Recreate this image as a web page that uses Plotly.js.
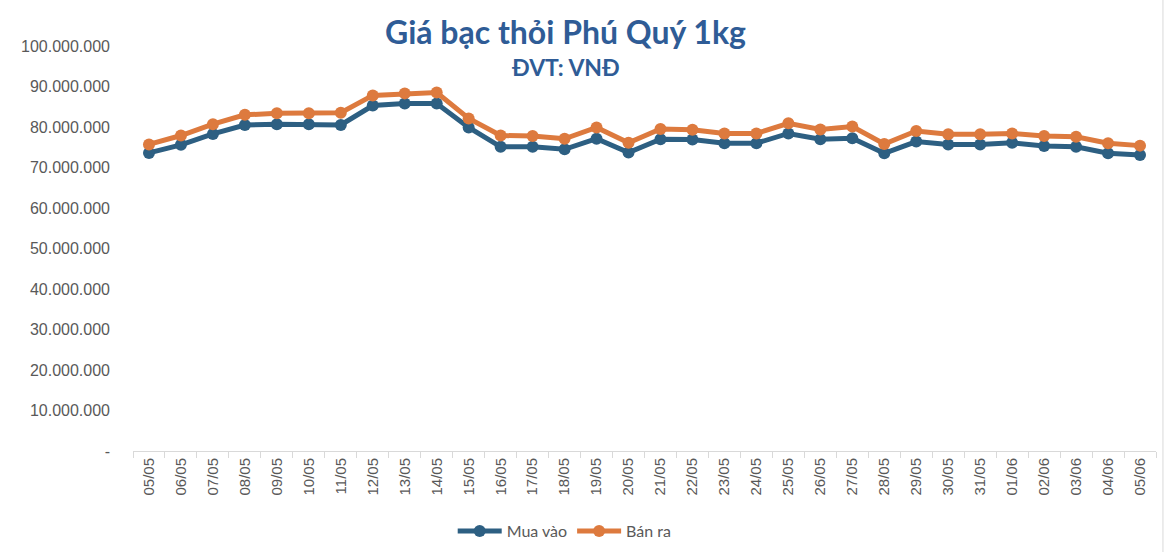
<!DOCTYPE html>
<html>
<head>
<meta charset="utf-8">
<script src="https://cdn.plot.ly/plotly-3.0.1.min.js"></script>
<style>
  html, body { margin: 0; padding: 0; background: #fff; }
  #chart { width: 1166px; height: 552px; }
</style>
</head>
<body>
<div id="chart"></div>
<script>
// Giá bạc thỏi Phú Quý 1kg, 05/05 - 05/06
var dates = ['05/05', '06/05', '07/05', '08/05', '09/05', '10/05', '11/05', '12/05', '13/05', '14/05',
             '15/05', '16/05', '17/05', '18/05', '19/05', '20/05', '21/05', '22/05', '23/05', '24/05',
             '25/05', '26/05', '27/05', '28/05', '29/05', '30/05', '31/05', '01/06', '02/06', '03/06',
             '04/06', '05/06'];

var muaVao = [73600000, 75600000, 78300000, 80500000, 80700000, 80700000, 80500000, 85300000, 85800000, 85800000,
              79900000, 75100000, 75100000, 74500000, 77100000, 73700000, 77000000, 76900000, 76000000, 76000000,
              78400000, 77000000, 77200000, 73500000, 76400000, 75700000, 75700000, 76100000, 75300000, 75100000,
              73500000, 73100000];

var banRa = [75700000, 77900000, 80700000, 83000000, 83400000, 83400000, 83500000, 87800000, 88300000, 88500000,
             82100000, 77900000, 77800000, 77100000, 79900000, 76100000, 79500000, 79300000, 78400000, 78400000,
             80900000, 79400000, 80100000, 75800000, 79000000, 78200000, 78200000, 78400000, 77800000, 77600000,
             76000000, 75400000];

var yTicks = [0, 10000000, 20000000, 30000000, 40000000, 50000000, 60000000, 70000000, 80000000, 90000000, 100000000];
var yTickText = ['-', '10.000.000', '20.000.000', '30.000.000', '40.000.000', '50.000.000',
                 '60.000.000', '70.000.000', '80.000.000', '90.000.000', '100.000.000'];

var blue = '#2d5f82';
var orange = '#dd7a3e';

var traces = [
    { x: dates, y: muaVao, name: 'Mua vào', type: 'scatter', mode: 'lines+markers',
      line: { color: blue, width: 5 }, marker: { color: blue, size: 12 } },
    { x: dates, y: banRa, name: 'Bán ra', type: 'scatter', mode: 'lines+markers',
      line: { color: orange, width: 5 }, marker: { color: orange, size: 12 } }
];

var layout = {
    width: 1166, height: 552,
    paper_bgcolor: '#fff', plot_bgcolor: '#fff',
    margin: { t: 46, r: 10, b: 101, l: 133, autoexpand: false },
    font: { family: 'Liberation Sans, Arial', color: '#595959', size: 14 },
    showlegend: true,
    legend: { orientation: 'h', x: 0.422, xanchor: 'center', y: -0.198, yanchor: 'middle',
              font: { family: 'Lato', size: 16, color: '#595959' }, itemwidth: 44 },
    xaxis: { type: 'category', range: [-0.5, dates.length - 0.5], tickangle: -90,
             tickson: 'boundaries', ticks: 'outside', ticklen: 6, tickcolor: '#d9d9d9',
             showline: true, linecolor: '#d9d9d9', linewidth: 1, showgrid: false,
             tickfont: { size: 15, color: '#595959' }, fixedrange: true },
    yaxis: { range: [0, 100000000], tickvals: yTicks, ticktext: yTickText,
             showgrid: false, zeroline: false, showline: false, ticks: '',
             ticklabelstandoff: 22, tickfont: { size: 16, color: '#595959' } },
    annotations: [
        { text: '<b>Giá bạc thỏi Phú Quý 1kg</b>', xref: 'paper', yref: 'paper',
          x: 0.423, y: 1.035, xanchor: 'center', yanchor: 'middle', showarrow: false,
          font: { family: 'Lato', size: 32, color: '#2f5c96' } },
        { text: '<b>ĐVT: VNĐ</b>', xref: 'paper', yref: 'paper',
          x: 0.423, y: 0.948, xanchor: 'center', yanchor: 'middle', showarrow: false,
          font: { family: 'Lato', size: 23, color: '#2f5c96' } }
    ],
    shapes: [
        { type: 'line', xref: 'paper', yref: 'paper', x0: 1.0068, x1: 1.0068, y0: -0.25, y1: 1.12,
          line: { color: '#d9d9d9', width: 1 } }
    ]
};

Plotly.newPlot('chart', traces, layout, { displayModeBar: false, staticPlot: true });
</script>
</body>
</html>
